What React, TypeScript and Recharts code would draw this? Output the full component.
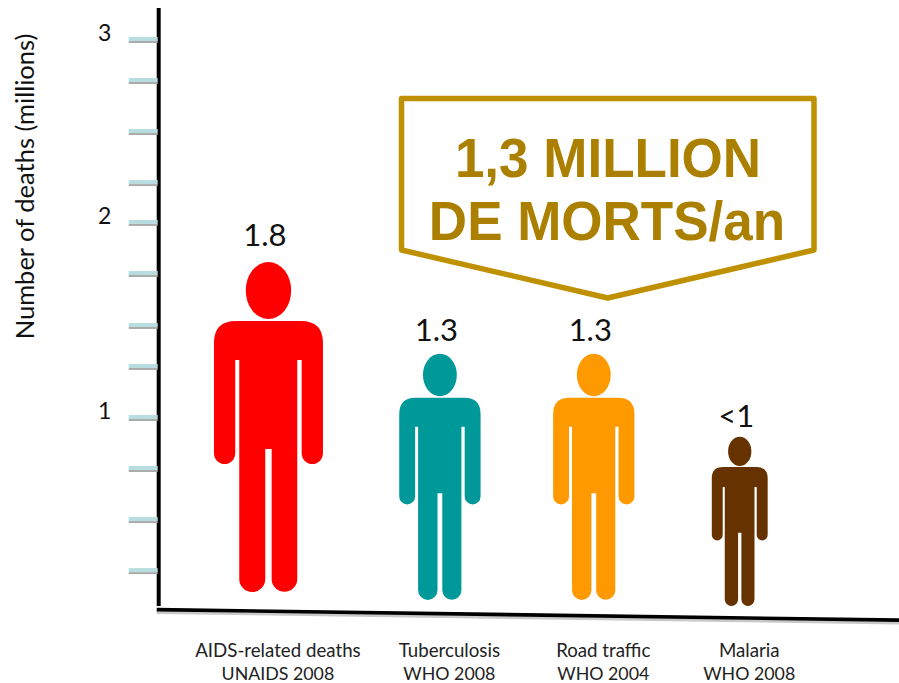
import React from "react";
import { ComposedChart, Bar, XAxis, YAxis, ReferenceLine, LabelList, Customized } from "recharts";

const categories = ["AIDS-related deaths", "Tuberculosis", "Road traffic", "Malaria"];
const sources = ["UNAIDS 2008", "WHO 2008", "WHO 2004", "WHO 2008"];
const valueLabels = ["1.8", "1.3", "1.3", "<1"];
const slots = [0.994, 2.547, 3.941, 5.263];
const figureTop = [1.82, 1.335, 1.335, 0.895];
const figureBase = [0.074, 0.032, 0.032, 0];
const colors = ["#FF0000", "#009999", "#FF9900", "#663300"];
const yTicks = [3, 2.783, 2.513, 2.243, 2.032, 1.762, 1.487, 1.27, 1, 0.73, 0.46, 0.19];
const yTickLabels = ["3", "", "", "", "2", "", "", "", "1", "", "", ""];
const calloutLines = ["1,3 MILLION", "DE MORTS/an"];

const data = categories.map((c, i) => ({
  slot: slots[i],
  category: c,
  source: sources[i],
  label: valueLabels[i],
  range: [figureBase[i], figureTop[i]],
  color: colors[i],
}));

const FONT = "Lato, 'Open Sans', sans-serif";
const BASE_HEIGHT = 330;

const BODY =
  "M-32.5 59H32.5Q54.5 59 54.5 81V191.35A10.65 10.65 0 0 1 33.2 191.35V98H28.8V317A12.8 12.8 0 0 1 3.2 317V187H-3.2V317A12.8 12.8 0 0 1 -29.2 317V98H-33.2V191.35A10.65 10.65 0 0 1 -54.5 191.35V81Q-54.5 59 -32.5 59Z";

const Person = (props: any) => {
  const { x, y, width, height, payload } = props;
  const s = height / BASE_HEIGHT;
  return (
    <g transform={`translate(${x + width / 2},${y}) scale(${s})`} fill={payload.color}>
      <ellipse cx={0} cy={28.5} rx={22.7} ry={28.5} />
      <path d={BODY} />
    </g>
  );
};

const ValueLabel = (props: any) => {
  const { x, y, width, height, value } = props;
  const s = height / BASE_HEIGHT;
  return (
    <text
      x={x + width / 2 - 3.5}
      y={y - (2.5 + 14 * s)}
      textAnchor="middle"
      fontFamily={FONT}
      fontSize={31}
      fill="#111"
    >
      {value}
    </text>
  );
};

const YTick = (props: any) => {
  const { x, y, index } = props;
  return (
    <g>
      <rect x={x - 30} y={y + 2} width={29} height={2} fill="#aaaaaa" />
      <rect x={x - 30} y={y - 2} width={29} height={4} fill="#B7DDE0" />
      <text x={x - 54} y={y + 2.5} textAnchor="middle" fontFamily={FONT} fontSize={23} fill="#111">
        {yTickLabels[index]}
      </text>
    </g>
  );
};

const XTick = (props: any) => {
  const { x, index } = props;
  return (
    <g fontFamily={FONT} fill="#222" textAnchor="middle">
      <text x={x + 9.5} y={657} fontSize={18.7}>{categories[index]}</text>
      <text x={x + 9.5} y={680} fontSize={17.8}>{sources[index]}</text>
    </g>
  );
};

const Annotations = () => (
  <g>
    <text
      transform="translate(34,186.5) rotate(-90)"
      textAnchor="middle"
      fontFamily={FONT}
      fontSize={25.5}
      fill="#111"
    >
      Number of deaths (millions)
    </text>
    <path
      d="M401.5 98.5H814V250L607.7 298L401.5 250Z"
      fill="none"
      stroke="#BF9000"
      strokeWidth={5.5}
      strokeLinejoin="round"
    />
    <g fontFamily="'Liberation Sans', Arial, sans-serif" fontWeight={700} fontSize={53} fill="#AB8000" textAnchor="middle">
      <text transform="translate(608,177) scale(1,1.06)">{calloutLines[0]}</text>
      <text transform="translate(607,240) scale(1,1.06)">{calloutLines[1]}</text>
    </g>
  </g>
);

export default function App() {
  return (
    <div style={{ position: "absolute", left: 0, top: 0, width: 899, height: 683, background: "#fff" }}>
      <ComposedChart
        width={899}
        height={683}
        data={data}
        margin={{ top: 8, right: 0, bottom: 0, left: 0 }}
      >
        <XAxis
          type="number"
          dataKey="slot"
          domain={[0, 6.706]}
          ticks={slots}
          interval={0}
          height={77}
          axisLine={false}
          tickLine={false}
          tick={<XTick />}
        />
        <YAxis
          type="number"
          width={158.7}
          domain={[0, 3.164]}
          ticks={yTicks}
          interval={0}
          tickSize={0}
          tickMargin={0}
          tickLine={false}
          axisLine={{ stroke: "#000", strokeWidth: 4 }}
          tick={<YTick />}
        />
        <ReferenceLine
          segment={[{ x: -0.018, y: -0.034 }, { x: 6.706, y: -0.09 }]}
          stroke="#c8c8c8"
          strokeWidth={3}
          ifOverflow="visible"
        />
        <ReferenceLine
          segment={[{ x: -0.018, y: -0.019 }, { x: 6.706, y: -0.075 }]}
          stroke="#000"
          strokeWidth={3.6}
          ifOverflow="visible"
        />
        <Bar dataKey="range" barSize={40} shape={<Person />} isAnimationActive={false}>
          <LabelList dataKey="label" content={<ValueLabel />} />
        </Bar>
        <Customized component={<Annotations />} />
      </ComposedChart>
    </div>
  );
}
